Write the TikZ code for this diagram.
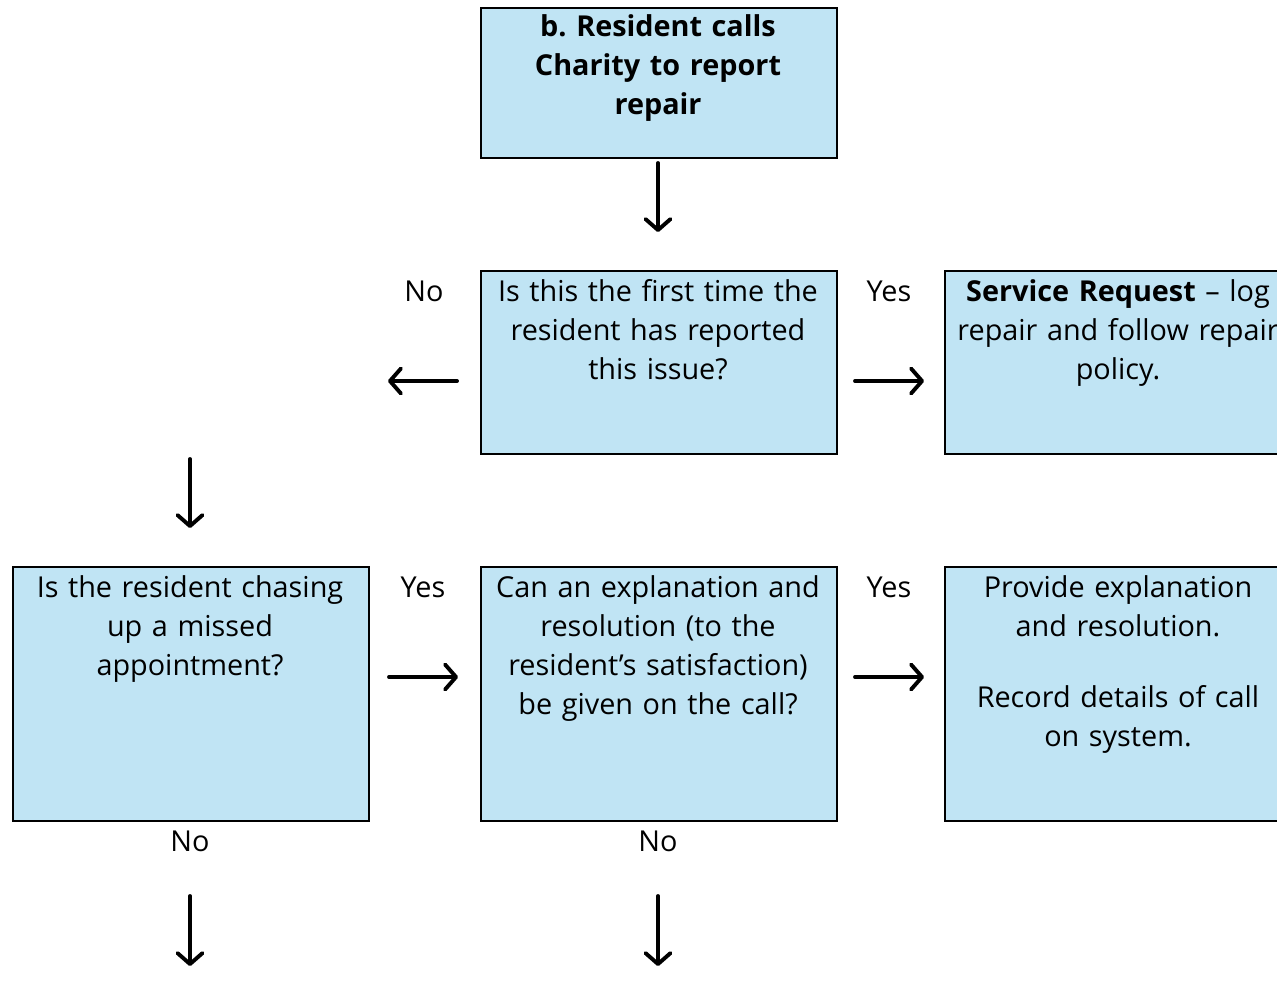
\documentclass[tikz,border=0pt]{standalone}
\usepackage{fontspec}
\setmainfont{Open Sans}
\usetikzlibrary{arrows.meta}
\definecolor{boxblue}{RGB}{192,228,244}
\tikzset{
  flowbox/.style={draw=black, line width=1.8pt, fill=boxblue, inner sep=0pt},
  boxtext/.style={anchor=north, inner sep=0pt, align=center, text width=#1,
    font=\fontsize{28.8}{39}\selectfont},
  boxtext/.default=350pt,
  lbl/.style={anchor=base, inner sep=0pt, font=\fontsize{28.8}{39}\selectfont},
  flowarrow/.style={line width=3.9pt, line cap=round,
    -{Straight Barb[length=11pt,width=25pt,round]}}
}
\begin{document}
\frenchspacing
\begin{tikzpicture}[x=1pt,y=-1pt]
\useasboundingbox (0,0) rectangle (1277,1001);
\clip (0,0) rectangle (1277,1001);
% boxes
\node[flowbox, minimum width=356pt, minimum height=150pt, anchor=north west] (b1) at (480,7) {};
\node[flowbox, minimum width=356pt, minimum height=183pt, anchor=north west] (b2) at (480,270) {};
\node[flowbox, minimum width=350pt, minimum height=183pt, anchor=north west] (b3) at (944,270) {};
\node[flowbox, minimum width=356pt, minimum height=254pt, anchor=north west] (b4) at (12,566) {};
\node[flowbox, minimum width=356pt, minimum height=254pt, anchor=north west] (b5) at (480,566) {};
\node[flowbox, minimum width=350pt, minimum height=254pt, anchor=north west] (b6) at (944,566) {};
% texts
\node[boxtext] (t1) at (658,9.2) {\strut\bfseries b. Resident calls\\ Charity to report\\ repair};
\node[boxtext] (t2) at (658,273.7) {\strut Is this the first time the\\ resident has reported\\ this issue?};
\node[boxtext=420pt] (t3) at (1118,273.7) {\strut\textbf{Service Request} -- log\\ repair and follow repair\\ policy.};
\node[boxtext] (t4) at (190,569.7) {\strut Is the resident chasing\\ up a missed\\ appointment?};
\node[boxtext] (t5) at (658,569.7) {\strut Can an explanation and\\ resolution (to the\\ resident's satisfaction)\\ be given on the call?};
\node[boxtext] (t6) at (1118,569.7) {\strut Provide explanation\\ and resolution.\\[32pt] Record details of call\\ on system.};
% labels
\node[lbl] (l1) at (424,301) {No};
\node[lbl] (l2) at (889,301) {Yes};
\node[lbl] (l3) at (423,597) {Yes};
\node[lbl] (l4) at (889,597) {Yes};
\node[lbl] (l5) at (190,851) {No};
\node[lbl] (l6) at (658,851) {No};
% arrow ends
\coordinate (a1s) at (658,163); \coordinate (a1e) at (658,232);
\coordinate (a2s) at (457,381); \coordinate (a2e) at (388,381);
\coordinate (a3s) at (855,381); \coordinate (a3e) at (924,381);
\coordinate (a4s) at (190,459); \coordinate (a4e) at (190,528);
\coordinate (a5s) at (389,677); \coordinate (a5e) at (458,677);
\coordinate (a6s) at (855,677); \coordinate (a6e) at (924,677);
\coordinate (a7s) at (190,896); \coordinate (a7e) at (190,966);
\coordinate (a8s) at (658,896); \coordinate (a8e) at (658,966);
\foreach \a in {1,...,8} \draw[flowarrow] (a\a s) -- (a\a e);
\end{tikzpicture}
\end{document}
